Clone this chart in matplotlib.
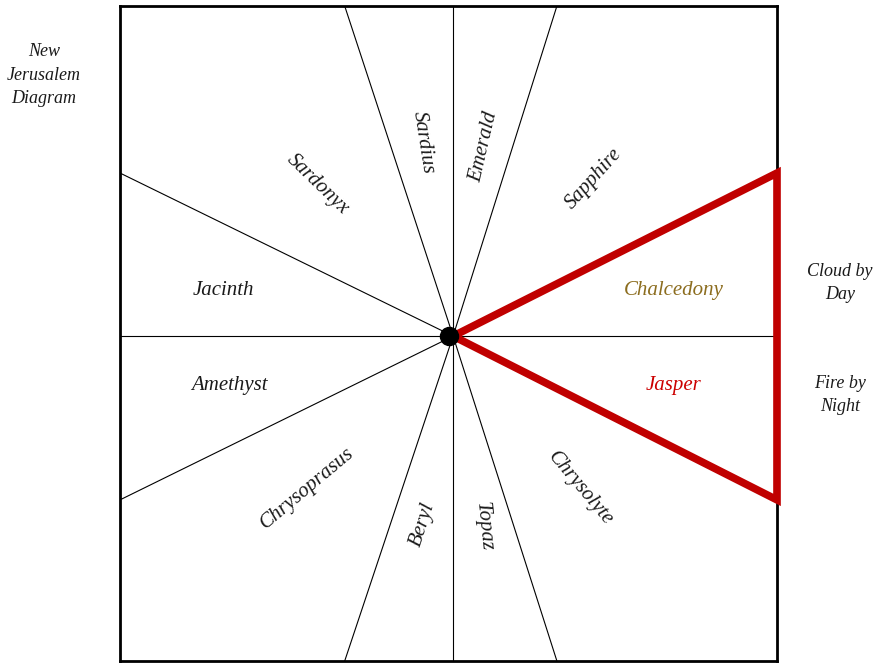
import matplotlib
matplotlib.use("Agg")
import matplotlib.pyplot as plt

# ---------------------
# data
# ---------------------
center = (0.507, 0.496)

# where the spokes meet the frame
spoke_x = [0.342, 0.507, 0.665, 1.0, 1.0, 1.0, 0.665, 0.507, 0.342, 0.0, 0.0, 0.0]
spoke_y = [1.0, 1.0, 1.0, 0.745, 0.496, 0.246, 0.0, 0.0, 0.0, 0.246, 0.496, 0.745]

gems = ["Sardonyx", "Sardius", "Emerald", "Sapphire", "Jacinth", "Amethyst",
        "Chrysoprasus", "Beryl", "Topaz", "Chrysolyte", "Chalcedony", "Jasper"]
gem_x = [0.301, 0.461, 0.554, 0.721, 0.158, 0.167, 0.285, 0.461, 0.553, 0.700, 0.843, 0.842]
gem_y = [0.727, 0.792, 0.785, 0.736, 0.565, 0.420, 0.263, 0.208, 0.206, 0.264, 0.565, 0.420]
gem_rot = [-44, -81, 77, 48, 0, 0, 40, 72, -84, -50, 0, 0]
gem_col = ["#1a1a1a"] * 10 + ["#8c6d1f", "#cc0000"]

# triangle (pillar of cloud / fire)
tri_x = [0.507, 1.0, 1.0, 0.507]
tri_y = [0.496, 0.745, 0.246, 0.496]

FONT = ["Liberation Serif", "DejaVu Serif"]

fig = plt.figure(figsize=(8.8, 6.63), dpi=100)
ax = fig.add_axes([120 / 880, 2 / 663, 657 / 880, 655 / 663])
ax.set_xlim(0, 1)
ax.set_ylim(0, 1)
ax.set_xticks([])
ax.set_yticks([])
for s in ax.spines.values():
    s.set_linewidth(2.0)
    s.set_color("black")

# spokes
for x, y in zip(spoke_x, spoke_y):
    ax.plot([center[0], x], [center[1], y], color="black", lw=0.8, zorder=1)

# labels
for name, x, y, r, c in zip(gems, gem_x, gem_y, gem_rot, gem_col):
    ax.text(x, y, name, rotation=r, rotation_mode="anchor", ha="center", va="center",
            fontsize=15, fontstyle="italic", family=FONT, color=c)

# red triangle
ax.plot(tri_x, tri_y, color="#c00000", lw=5.5, solid_joinstyle="miter",
        clip_on=False, zorder=3)
ax.plot(center[0] - 0.006, center[1], "o", color="black", ms=13, zorder=4)

# outside notes
notes = {"New\nJerusalem\nDiagram": (44, 75), "Cloud by\nDay": (840, 283),
         "Fire by\nNight": (840, 395)}
for txt, (px, py) in notes.items():
    fig.text(px / 880, 1 - py / 663, txt, ha="center", va="center",
             fontsize=13, fontstyle="italic", family=FONT, linespacing=1.5,
             color="#1a1a1a")

fig.savefig("out.png", dpi=100)
